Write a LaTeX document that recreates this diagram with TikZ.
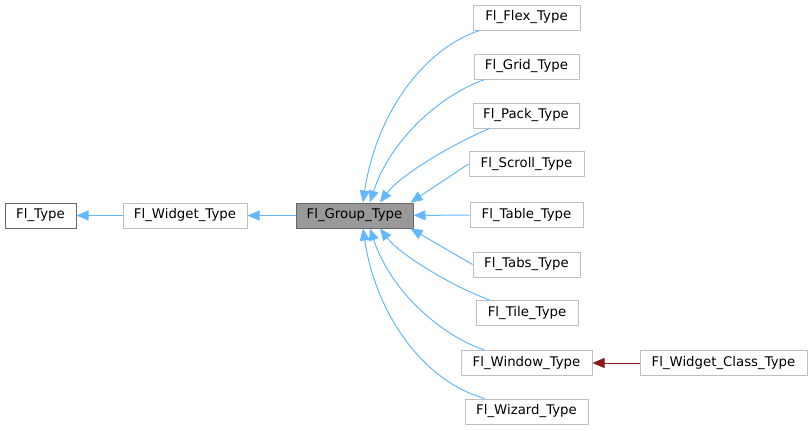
\documentclass[tikz,border=0pt]{standalone}
\usepackage{fontspec}
\setmainfont{DejaVu Sans}
\usetikzlibrary{arrows.meta}

\definecolor{edgeblue}{HTML}{63B8FF}
\definecolor{edgered}{HTML}{8B1A1A}
\definecolor{boxgray}{HTML}{BFBFBF}
\definecolor{darkgray}{HTML}{666666}
\definecolor{fillgray}{HTML}{999999}

\begin{document}
\begin{tikzpicture}[x=1pt,y=-1pt,line join=round,line width=1pt,
  cls/.style={draw=boxgray,fill=white,minimum height=25pt,inner xsep=4pt,
    inner ysep=0pt,font=\fontsize{13.3}{16}\selectfont},
  base/.style={cls,draw=darkgray},
  focus/.style={cls,draw=darkgray,fill=fillgray},
  inherit/.style={draw=edgeblue,-{Triangle[length=12pt,width=10pt]}},
  usage/.style={draw=edgered,-{Triangle[length=12pt,width=10pt]}}]
\useasboundingbox (0,0) rectangle (812,431);
% class hierarchy around Fl_Group_Type

% left chain
\node[base,minimum width=71pt]   (type)   at (40.5,215.5) {Fl\_Type};
\node[cls,minimum width=124pt]   (widget) at (185,215.5)  {Fl\_Widget\_Type};
\node[focus,minimum width=117pt] (group)  at (354.5,215.5) {Fl\_Group\_Type};

% derived classes
\node[cls,minimum width=107pt] (flex)   at (526.5,17.5)  {Fl\_Flex\_Type};
\node[cls,minimum width=105pt] (grid)   at (526.5,66.5)  {Fl\_Grid\_Type};
\node[cls,minimum width=106pt] (pack)   at (526,115.5)   {Fl\_Pack\_Type};
\node[cls,minimum width=115pt] (scroll) at (526.5,164)   {Fl\_Scroll\_Type};
\node[cls,minimum width=113pt] (table)  at (526.5,215)   {Fl\_Table\_Type};
\node[cls,minimum width=107pt] (tabs)   at (526.5,264.5) {Fl\_Tabs\_Type};
\node[cls,minimum width=102pt] (tile)   at (527,313)     {Fl\_Tile\_Type};
\node[cls,minimum width=131pt] (window) at (526.5,363)   {Fl\_Window\_Type};
\node[cls,minimum width=123pt] (wizard) at (526.5,411.5) {Fl\_Wizard\_Type};
\node[cls,minimum width=167pt] (wclass) at (723.5,363)   {Fl\_Widget\_Class\_Type};

% inheritance edges
\draw[inherit] (widget) -- (type);
\draw[inherit] (group) -- (widget);
\draw[inherit] ([xshift=7pt]flex.south west) .. controls +(-60,20) and +(12,-83) .. ([xshift=8.5pt]group.north);
\draw[inherit] ([xshift=11pt]grid.south west) .. controls +(-45,16) and +(20,-62) .. ([xshift=15.5pt]group.north);
\draw[inherit] ([xshift=17pt]pack.south west) .. controls +(-40,17) and +(20,-27) .. ([xshift=25.5pt]group.north);
\draw[inherit] (scroll.west) -- ([xshift=-3pt]group.north east);
\draw[inherit] (table) -- (group);
\draw[inherit] (tabs.west) -- ([xshift=-3pt]group.south east);
\draw[inherit] ([xshift=14pt]tile.north west) .. controls +(-40,-15) and +(20,26) .. ([xshift=25.5pt]group.south);
\draw[inherit] ([xshift=24pt]window.north west) .. controls +(-45,-15) and +(20,61) .. ([xshift=15.5pt]group.south);
\draw[inherit] ([xshift=20pt]wizard.north west) .. controls +(-65,-19) and +(12,81) .. ([xshift=8.5pt]group.south);

% usage edge
\draw[usage] (wclass) -- (window);

\end{tikzpicture}
\end{document}
